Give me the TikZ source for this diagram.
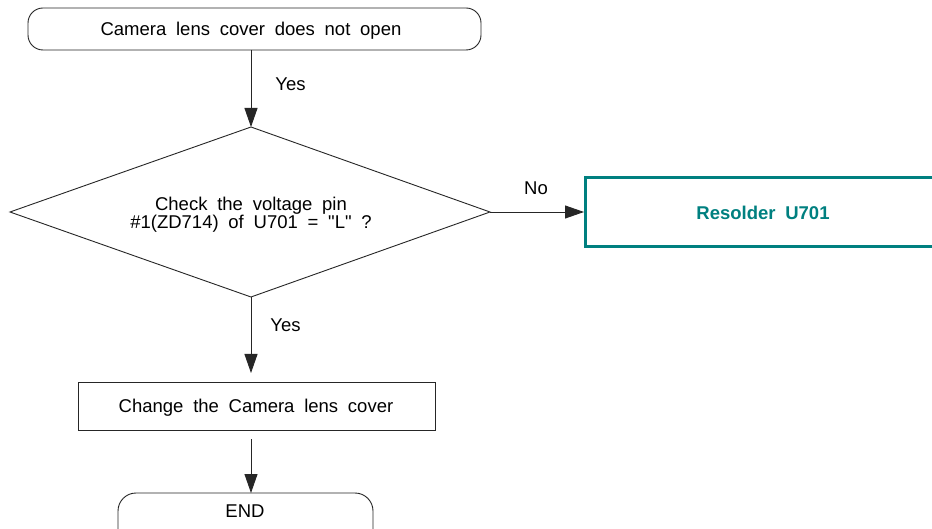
\documentclass[tikz,border=0pt]{standalone}
\usepackage{fontspec}
\setmainfont{Liberation Sans}[WordSpace=1.9, Ligatures=TeXOff]
\usetikzlibrary{arrows.meta,shapes.geometric}
\definecolor{teal1}{RGB}{0,128,128}
\begin{document}
\begin{tikzpicture}[x=1pt,y=-1pt,
  every node/.style={font=\fontsize{18.5}{18}\selectfont, inner sep=0pt},
  conn/.style={draw=black!85, line width=0.9pt, -{Triangle[length=19pt,width=13pt]}},
  box/.style={draw=black!85, line width=0.9pt}]
\useasboundingbox (0,0) rectangle (932,529);
\clip (0,0) rectangle (932,529);
\fill[white] (0,0) rectangle (932,529);
% top terminal
\draw[box, rounded corners=15pt] (28,8) rectangle (481,50);
\node (start) at (251,30.5) {Camera lens cover does not open};
\coordinate (startb) at (251,50);
% diamond
\draw[box] (10,212) -- (251,127) -- (490,212) -- (251,297) -- cycle;
\coordinate (dtop) at (251,127);
\coordinate (dright) at (490,212);
\coordinate (dbot) at (251,297);
\node[align=center] (dec) at (251,215) {Check the voltage pin\\\#1(ZD714) of U701 = "L" ?};
% resolder
\draw[draw=teal1, line width=3pt] (585,178) rectangle (945,247);
\coordinate (rleft) at (584,212);
\node[text=teal1, font=\fontsize{18.5}{18}\selectfont\bfseries] (res) at (763,213) {Resolder U701};
% change box
\draw[box] (78,382) rectangle (435,430);
\node (chg) at (256,407.5) {Change the Camera lens cover};
\coordinate (chgt) at (251,373);
\coordinate (chgb) at (251,439);
% end
\draw[box, rounded corners=18pt] (118,493) rectangle (373,565);
\node (endn) at (245,511) {END};
\coordinate (endt) at (251,493);
% connectors
\draw[conn] (startb) -- (dtop) node[pos=0.45, right=24pt] {Yes};
\draw[conn] (dright) -- (rleft);
\node at (536,188) {No};
\draw[conn] (dbot) -- (chgt) node[pos=0.37, right=19pt] {Yes};
\draw[conn] (chgb) -- (endt);
\end{tikzpicture}
\end{document}
